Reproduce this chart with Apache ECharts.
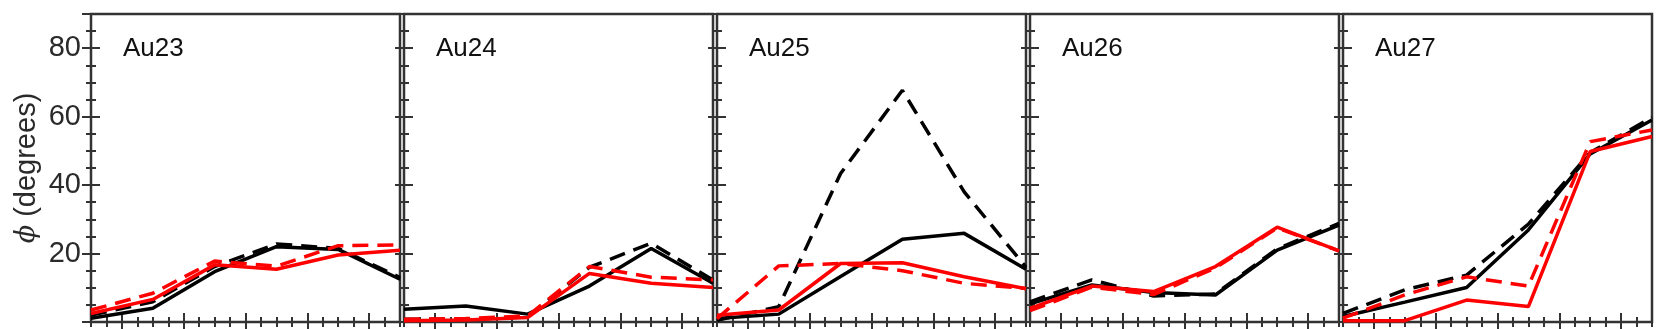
<!DOCTYPE html>
<html>
<head>
<meta charset="utf-8">
<script src="https://cdn.jsdelivr.net/npm/echarts@6/dist/echarts.min.js"></script>
<style>
  html, body { margin: 0; padding: 0; background: #fff; }
  #chart { width: 1661px; height: 329px; }
</style>
</head>
<body>
<div id="chart"></div>
<script>
// x positions of the six points (same in every panel)
const xs = [0, 1, 2, 3, 4, 5]
const panelNames = ['Au23', 'Au24', 'Au25', 'Au26', 'Au27']

// one array per panel, four lines each
const blackSolid = [
  [1.1, 4.0, 14.7, 22.0, 21.2, 12.5],
  [3.7, 4.7, 2.3, 10.5, 21.5, 11.3],
  [1.0, 2.3, 13.3, 24.2, 25.9, 15.4],
  [5.3, 10.8, 8.6, 7.9, 21.0, 28.3],
  [1.6, 5.8, 10.1, 26.9, 49.1, 59.0],
]
const blackDashed = [
  [2.0, 5.9, 16.2, 22.8, 21.5, 13.0],
  [0.8, 0.8, 1.5, 16.0, 23.0, 12.3],
  [0.5, 4.5, 43.4, 67.7, 38.0, 16.0],
  [5.9, 12.3, 7.6, 8.2, 21.4, 28.8],
  [2.5, 9.4, 13.7, 28.6, 49.5, 59.8],
]
const redSolid = [
  [2.5, 6.6, 16.7, 15.4, 19.6, 21.0],
  [0.4, 0.6, 1.3, 14.2, 11.3, 10.1],
  [2.0, 3.5, 17.1, 17.3, 13.2, 9.7],
  [4.0, 10.5, 8.9, 16.2, 27.7, 20.8],
  [0.4, 0.4, 6.4, 4.5, 49.8, 54.2],
]
const redDashed = [
  [3.5, 8.4, 17.8, 16.3, 22.3, 22.5],
  [0.8, 1.0, 1.8, 16.2, 13.1, 12.3],
  [1.0, 16.4, 17.1, 15.0, 11.3, 9.8],
  [3.3, 10.2, 8.0, 15.8, 27.5, 20.8],
  [1.1, 7.9, 13.2, 10.5, 52.7, 56.1],
]

const yTicks = [0, 20, 40, 60, 80]
const xMajorTicks = [0.5, 1.5, 2.5, 3.5, 4.5]

const chart = echarts.init(document.getElementById('chart'))

const frameColor = '#333'
const textColor = '#2a2a2a'
const grids = []
const xAxes = []
const yAxes = []
const titles = []
const series = []

const tickStyle = { color: frameColor, width: 2 }

panelNames.forEach((name, i) => {
  const left = 91 + i * 313
  grids.push({
    left: left,
    top: 14,
    width: 309,
    height: 308,
    show: true,
    borderColor: frameColor,
    borderWidth: 2.5,
  })

  // x axes: bottom minor (data), bottom major, top minor, top major
  const xBase = {
    gridIndex: i,
    type: 'value',
    min: 0,
    max: 5,
    axisLine: { show: false },
    axisLabel: { show: false },
    splitLine: { show: false },
  }
  xAxes.push({ ...xBase, position: 'bottom', interval: 0.25,
    axisTick: { inside: true, length: 5, lineStyle: tickStyle } })
  xAxes.push({ ...xBase, position: 'bottom',
    axisTick: { inside: true, length: 9, customValues: xMajorTicks, lineStyle: tickStyle } })
  xAxes.push({ ...xBase, position: 'top', interval: 0.25,
    axisTick: { inside: true, length: 5, lineStyle: tickStyle } })
  xAxes.push({ ...xBase, position: 'top',
    axisTick: { inside: true, length: 9, customValues: xMajorTicks, lineStyle: tickStyle } })

  // y axes: left major (data), left minor, right major, right minor
  const yBase = {
    gridIndex: i,
    type: 'value',
    min: 0,
    max: 90,
    axisLine: { show: false },
    splitLine: { show: false },
  }
  yAxes.push({
    ...yBase,
    position: 'left',
    interval: 20,
    axisTick: { inside: true, length: 9, lineStyle: tickStyle },
    axisLabel: {
      show: i === 0,
      margin: 10,
      fontSize: 29,
      color: textColor,
      fontFamily: 'Liberation Sans',
      formatter: (v) => (yTicks.includes(v) && v > 0 ? String(v) : ''),
    },
    name: i === 0 ? '{p|ϕ} (degrees)' : '',
    nameLocation: 'middle',
    nameGap: 50,
    nameTextStyle: {
      fontSize: 29,
      color: textColor,
      fontFamily: 'Liberation Sans',
      rich: {
        p: { fontSize: 27, fontStyle: 'italic', fontFamily: 'DejaVu Serif', color: textColor },
      },
    },
  })
  yAxes.push({ ...yBase, position: 'left', interval: 5,
    axisTick: { inside: true, length: 5, lineStyle: tickStyle }, axisLabel: { show: false } })
  yAxes.push({ ...yBase, position: 'right', interval: 20,
    axisTick: { inside: true, length: 9, lineStyle: tickStyle }, axisLabel: { show: false } })
  yAxes.push({ ...yBase, position: 'right', interval: 5,
    axisTick: { inside: true, length: 5, lineStyle: tickStyle }, axisLabel: { show: false } })

  titles.push({
    text: name,
    left: left + 32,
    top: 36,
    padding: 0,
    textStyle: { fontSize: 26, fontWeight: 'normal', color: '#111', fontFamily: 'Liberation Sans' },
  })

  const lines = [
    { data: blackSolid[i], color: '#000', type: 'solid' },
    { data: blackDashed[i], color: '#000', type: [16, 9] },
    { data: redSolid[i], color: '#ff0000', type: 'solid' },
    { data: redDashed[i], color: '#ff0000', type: [16, 9] },
  ]
  lines.forEach((l) => {
    series.push({
      type: 'line',
      xAxisIndex: i * 4,
      yAxisIndex: i * 4,
      data: xs.map((x, k) => [x, l.data[k]]),
      showSymbol: false,
      symbol: 'none',
      clip: true,
      lineStyle: { color: l.color, width: 3.5, type: l.type },
      silent: true,
    })
  })
})

chart.setOption({
  animation: false,
  title: titles,
  grid: grids,
  xAxis: xAxes,
  yAxis: yAxes,
  series: series,
})
</script>
</body>
</html>
